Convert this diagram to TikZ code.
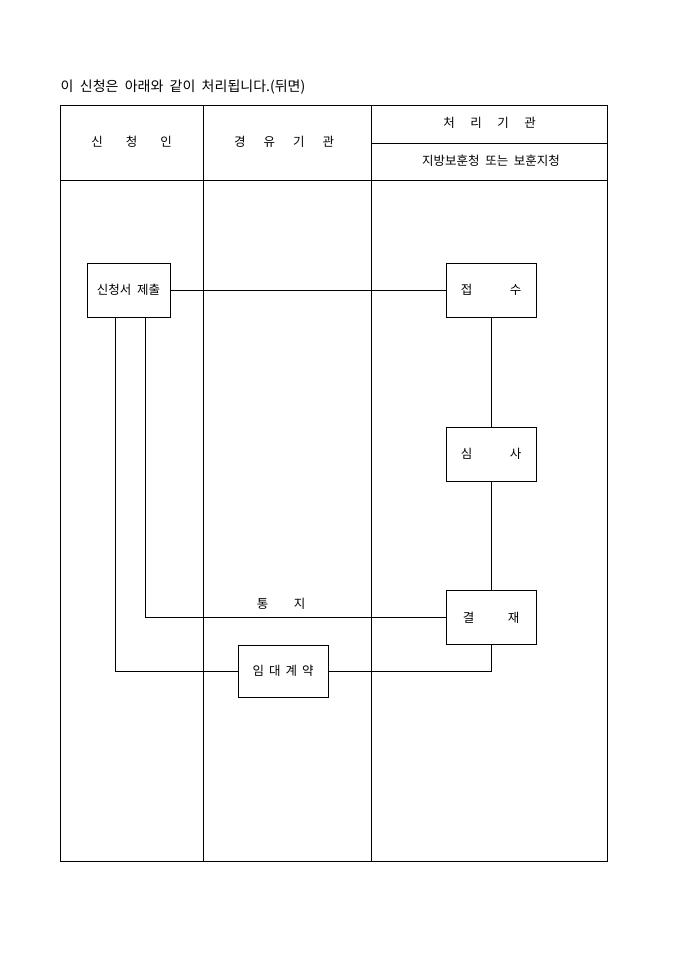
\documentclass[tikz,border=0pt]{standalone}
\usepackage{fontspec}
\newfontfamily\kr[WordSpace=2]{Noto Sans CJK KR}
\tikzset{
  box/.style={draw, minimum width=90pt, minimum height=54pt, inner sep=0pt},
  txt/.style={font=\kr\fontsize{12.5}{14}\selectfont}
}
\begin{document}
\begin{tikzpicture}[x=1pt,y=-1pt,line width=.8pt,every node/.style={txt}]
\useasboundingbox (0,0) rectangle (680,962);

% title:
\node[anchor=west,font=\kr\fontsize{14}{16}\selectfont] (title) at (57,87) {이 신청은 아래와 같이 처리됩니다.(뒤면)};

% table:
\draw (60,105) rectangle (607,861);
\draw (203,105) -- (203,861);
\draw (371,105) -- (371,861);
\draw (60,180) -- (607,180);
\draw (371,143) -- (607,143);

% heads:
\node (hA) at (131.5,142) {신\hspace{23pt}청\hspace{23pt}인};
\node (hB) at (284,142) {경\hspace{18pt}유\hspace{18pt}기\hspace{18pt}관};
\node (hC) at (489.5,123) {처\hspace{15.5pt}리\hspace{15.5pt}기\hspace{15.5pt}관};
\node (hD) at (491,161) {지방보훈청 또는 보훈지청};

% boxes:
\node[box,minimum width=83pt] (sub) at (128.5,290) {신청서 제출};
\node[box] (recv) at (491,290) {접\hspace{37.5pt}수};
\node[box] (review) at (491,454) {심\hspace{37.5pt}사};
\node[box] (decide) at (491,617.5) {결\hspace{33.5pt}재};
\node[box,minimum height=52pt] (lease) at (283,671) {임\hspace{5pt}대\hspace{5pt}계\hspace{5pt}약};

% flow:
\draw (sub) -- (recv);
\draw (recv) -- (review);
\draw (review) -- (decide);
\draw (decide.west) -| ([xshift=16.5pt]sub.south);
\draw (decide.south) |- (lease.east);
\draw (lease.west) -| ([xshift=-13.5pt]sub.south);
\node (notice) at (281,604) {통\hspace{25.5pt}지};
\end{tikzpicture}
\end{document}
